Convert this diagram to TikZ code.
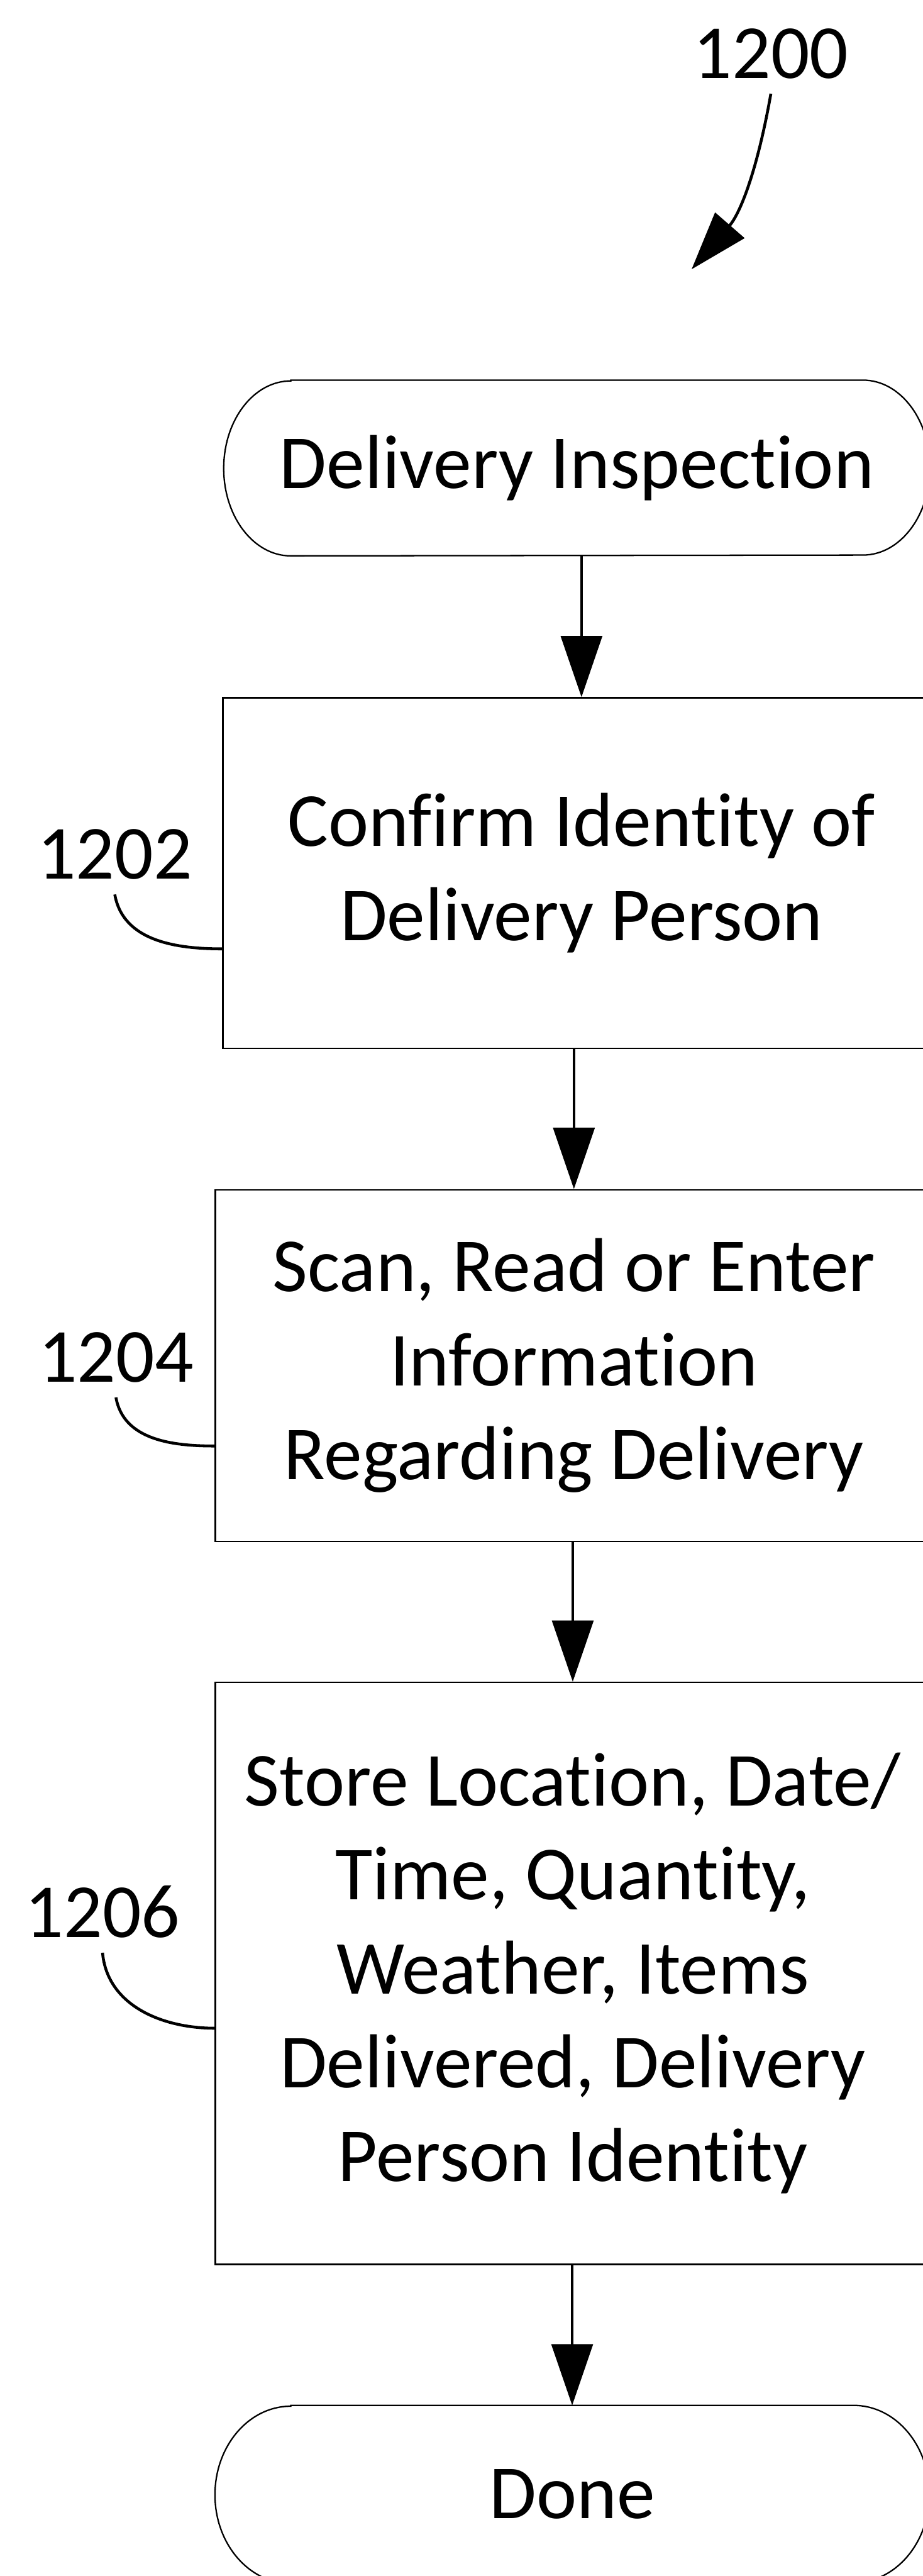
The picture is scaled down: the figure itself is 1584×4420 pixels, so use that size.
\documentclass[tikz,border=0pt]{standalone}
\usepackage{fontspec}
\setmainfont{Carlito}[Ligatures=NoCommon]
\usetikzlibrary{arrows.meta}
\begin{document}
\begin{tikzpicture}[x=0.01cm, y=0.01cm]
\tikzset{
  flowtext/.style={font=\fontsize{37.3}{45.8}\selectfont, align=center},
  procbox/.style={draw, line width=0.7pt, rectangle, flowtext, inner sep=0pt},
  termbox/.style={rectangle, flowtext, inner sep=0pt},
  termline/.style={line width=0.7pt},
  reflabel/.style={font=\fontsize{37.3}{45.8}\selectfont, inner sep=0.25cm},
  flowarrow/.style={line width=1.1pt, -{Triangle[length=1.05cm,width=0.71cm]}},
  leader/.style={line width=1.4pt},
}
\useasboundingbox (0,0) rectangle (1584,-4420);
\clip (0,0) rectangle (1584,-4420);

% start terminal
\node[termbox, minimum width=12.10cm, minimum height=3.00cm] (start) at (990,-803) {Delivery Inspection};
\draw[termline] ([xshift=1.15cm]start.north west) -- ([xshift=-1.15cm]start.north east)
  arc[start angle=90, end angle=-90, x radius=1.15cm, y radius=1.5cm]
  -- ([xshift=1.15cm]start.south west)
  arc[start angle=270, end angle=90, x radius=1.15cm, y radius=1.5cm] -- cycle;

% process steps
\node[procbox, minimum width=12.30cm, minimum height=6.01cm] (b1) at (998,-1498)
  {Confirm Identity of\\Delivery Person};
\node[procbox, minimum width=12.30cm, minimum height=6.03cm] (b2) at (985,-2343)
  {Scan, Read or Enter\\Information\\Regarding Delivery};
\node[procbox, minimum width=12.26cm, minimum height=9.98cm] (b3) at (983,-3386)
  {Store Location, Date/\\Time, Quantity,\\Weather, Items\\Delivered, Delivery\\Person Identity};

% end terminal
\node[termbox, minimum width=12.24cm, minimum height=3.04cm] (done) at (982,-4280) {Done};
\draw[termline] ([xshift=1.30cm]done.north west) -- ([xshift=-1.30cm]done.north east)
  arc[start angle=90, end angle=-90, x radius=1.30cm, y radius=1.52cm]
  -- ([xshift=1.30cm]done.south west)
  arc[start angle=270, end angle=90, x radius=1.30cm, y radius=1.52cm] -- cycle;

% flow arrows
\draw[flowarrow] (b1.north |- start.south) -- (b1.north);
\draw[flowarrow] (b2.north |- b1.south) -- (b2.north);
\draw[flowarrow] (b3.north |- b2.south) -- (b3.north);
\draw[flowarrow] (done.north |- b3.south) -- (done.north);

% reference numerals
\node[reflabel] (l1200) at (1323,-92) {1200};
\node[reflabel] (l1202) at (197,-1466) {1202};
\node[reflabel] (l1204) at (199,-2329) {1204};
\node[reflabel] (l1206) at (176,-3280) {1206};

\coordinate (p1200) at (1187,-462);
\draw[leader, -{Triangle[length=1.0cm,width=0.66cm]}] (l1200.south) to[out=-100, in=49] (p1200);
\draw[leader] (l1202.south) to[out=-80, in=180] ([yshift=-1.30cm]b1.west);
\draw[leader] (l1204.south) to[out=-80, in=180] ([yshift=-1.38cm]b2.west);
\draw[leader] (l1206.south) to[out=-85, in=180] ([yshift=-0.94cm]b3.west);
\end{tikzpicture}
\end{document}
